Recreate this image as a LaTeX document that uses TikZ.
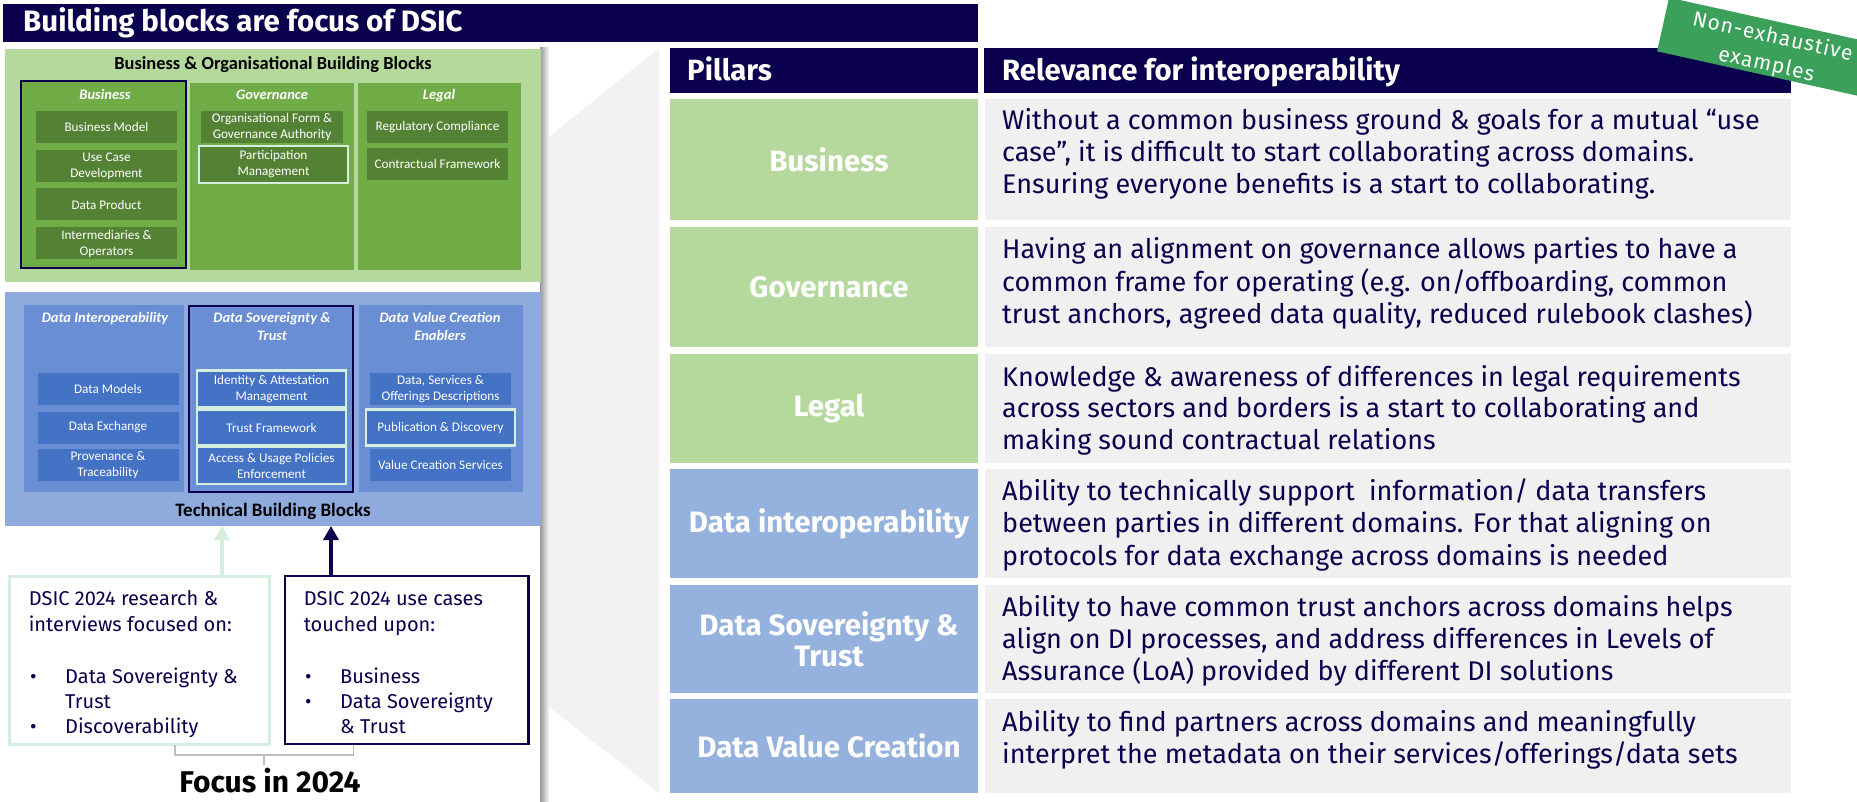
\documentclass[tikz,border=0pt]{standalone}
\usepackage{fontspec}
\setmainfont{Fira Sans}
\newfontfamily\calib{Carlito}
\usetikzlibrary{arrows.meta}

\definecolor{navy}{RGB}{10,0,78}
\definecolor{panelgreen}{RGB}{181,216,157}
\definecolor{colgreen}{RGB}{112,173,71}
\definecolor{boxgreen}{RGB}{84,130,53}
\definecolor{panelblue}{RGB}{143,170,220}
\definecolor{colblue}{RGB}{106,142,212}
\definecolor{boxblue}{RGB}{68,114,196}
\definecolor{mint}{RGB}{214,238,221}
\definecolor{cellgrey}{RGB}{240,240,240}
\definecolor{fangrey}{RGB}{242,242,242}
\definecolor{pillgreen}{RGB}{181,216,157}
\definecolor{pillblue}{RGB}{149,177,221}
\definecolor{badgegreen}{RGB}{59,160,90}
\definecolor{bracegrey}{RGB}{190,190,190}

\tikzset{
  area/.style={anchor=north west, inner sep=0pt, outer sep=0pt},
  subbox/.style={inner sep=0pt, outer sep=0pt, text=white, align=center,
    font=\calib\fontsize{13.2}{16}\selectfont},
  gsub/.style={subbox, fill=boxgreen, minimum width=141pt, minimum height=32pt},
  bsub/.style={subbox, fill=boxblue, minimum width=141pt, minimum height=32pt},
  hilite/.style={draw=mint, line width=2.2pt},
  colhead/.style={text=white, align=center, inner sep=0pt,
    font=\calib\bfseries\itshape\fontsize{14.5}{17.3}\selectfont},
  pilltext/.style={text=white, align=center, xshift=5pt,
    font=\bfseries\fontsize{29.5}{31}\selectfont},
  headtext/.style={anchor=base west, inner sep=0pt, text=white,
    font=\bfseries\fontsize{29.3}{32}\selectfont},
  reltext/.style={anchor=base west, inner sep=0pt, text=navy,
    font=\fontsize{27}{31}\selectfont},
  boxtext/.style={anchor=base west, inner sep=0pt, text=navy,
    font=\fontsize{20}{24}\selectfont},
  uparrow/.style={line width=3.2pt, -{Triangle[width=15pt,length=14pt]}},
}

\begin{document}
\begin{tikzpicture}[x=1pt,y=-1pt]
\useasboundingbox (0,0) rectangle (1857,802);
\clip (0,0) rectangle (1857,802);

% connecting fan behind the table
\fill[fangrey] (549,137) -- (659,48) -- (659,793) -- (549,707) -- cycle;
% drop shadow along the right side of the left panel
\shade[left color=black!40, right color=fangrey!60] (540,48) rectangle (549,802);
\fill[white] (0,46) rectangle (540,802);

% title bar
\node[area, fill=navy, minimum width=975pt, minimum height=38pt] (titlebar) at (3,4) {};
\node[anchor=base west, inner sep=0pt, text=white, font=\bfseries\fontsize{29.5}{32}\selectfont]
  (title) at (23,32) {Building blocks are focus of DSIC};

% ---------- business & organisational building blocks ----------
\node[area, fill=panelgreen, minimum width=535.6pt, minimum height=233pt] (bizpanel) at (5.4,49) {};
\node[anchor=base, inner sep=0pt, font=\calib\bfseries\fontsize{18.4}{20}\selectfont]
  (biztitle) at (273,70) {Business \& Organisational Building Blocks};

\node[area, fill=colgreen, draw=navy, line width=2pt, minimum width=165pt, minimum height=187pt] (colbiz) at (21,81) {};
\node[area, fill=colgreen, minimum width=164pt, minimum height=187pt] (colgov) at (190,83) {};
\node[area, fill=colgreen, minimum width=163pt, minimum height=187pt] (collegal) at (358,83) {};

\node[colhead, anchor=base] (hbiz) at (105,100) {Business};
\node[colhead, anchor=base] (hgov) at (272,100) {Governance};
\node[colhead, anchor=base] (hlegal) at (439,100) {Legal};

\node[gsub] (bm) at (106.5,127) {Business Model};
\node[gsub] (ucd) at (106.5,166) {Use Case\\Development};
\node[gsub] (dp) at (106.5,204.5) {Data Product};
\node[gsub] (io) at (106.5,243.5) {Intermediaries \&\\Operators};

\node[gsub, minimum width=142pt] (ofga) at (272,127) {Organisational Form \&\\Governance Authority};
\node[gsub, hilite, minimum width=149pt, minimum height=37pt] (pm) at (273.5,164.5) {Participation\\Management};

\node[gsub] (rc) at (437.5,127) {Regulatory Compliance};
\node[gsub] (cf) at (437.5,164) {Contractual Framework};

% ---------- technical building blocks ----------
\node[area, fill=panelblue, minimum width=535.6pt, minimum height=234pt] (techpanel) at (5.4,292) {};

\node[area, fill=colblue, minimum width=160pt, minimum height=187pt] (coldi) at (24,305) {};
\node[area, fill=colblue, draw=navy, line width=2pt, minimum width=164.4pt, minimum height=186pt] (colds) at (188.6,306) {};
\node[area, fill=colblue, minimum width=163.5pt, minimum height=187pt] (coldv) at (359,305) {};

% the base of a two-line node is the baseline of its last line
\node[colhead, anchor=base] (hdi) at (105,322.7) {Data Interoperability};
\node[colhead, anchor=base] (hds) at (272,340) {Data Sovereignty \&\\Trust};
\node[colhead, anchor=base] (hdv) at (440,340) {Data Value Creation\\Enablers};

\node[bsub] (dm) at (108,389) {Data Models};
\node[bsub] (dx) at (108,427.5) {Data Exchange};
\node[bsub] (pt) at (108,465) {Provenance \&\\Traceability};

\node[bsub, hilite, minimum width=149pt, minimum height=37pt] (iam) at (271.5,389) {Identity \& Attestation\\Management};
\node[bsub, hilite, minimum width=149pt, minimum height=36pt] (tf) at (271.5,427.5) {Trust Framework};
\node[bsub, hilite, minimum width=149pt, minimum height=37pt] (aup) at (271.5,465.5) {Access \& Usage Policies\\Enforcement};

\node[bsub] (dsod) at (440.5,389) {Data, Services \&\\Offerings Descriptions};
\node[bsub, hilite, minimum width=149pt, minimum height=36pt] (pd) at (440.5,427.5) {Publication \& Discovery};
\node[bsub] (vcs) at (440.5,464.5) {Value Creation Services};

\node[anchor=base, inner sep=0pt, font=\calib\bfseries\fontsize{19}{22}\selectfont]
  (techtitle) at (273,516.7) {Technical Building Blocks};

% ---------- 2024 focus boxes ----------
\node[area, draw=mint, line width=3pt, minimum width=260pt, minimum height=168pt] (lbox) at (9.6,576) {};
\node[area, draw=navy, line width=2.5pt, minimum width=243.6pt, minimum height=168pt] (rbox) at (285,576) {};

\node[boxtext] (l1) at (28.6,605.7) {DSIC 2024 research \&};
\node[boxtext] (l2) at (28.6,631) {interviews focused on:};
\node[boxtext] (lb1) at (30,683) {•};
\node[boxtext] (l3) at (65,683) {Data Sovereignty \&};
\node[boxtext] (l4) at (65,708) {Trust};
\node[boxtext] (lb2) at (30,733) {•};
\node[boxtext] (l5) at (65,733) {Discoverability};

\node[boxtext] (r1) at (303.6,605.7) {DSIC 2024 use cases};
\node[boxtext] (r2) at (303.6,631) {touched upon:};
\node[boxtext] (rb1) at (305,683) {•};
\node[boxtext] (r3) at (340,683) {Business};
\node[boxtext] (rb2) at (305,708) {•};
\node[boxtext] (r4) at (340,708) {Data Sovereignty};
\node[boxtext] (r5) at (340,733) {\& Trust};

\coordinate (mintx) at (222,0);
\coordinate (navyx) at (331,0);
\draw[uparrow, mint] (lbox.north -| mintx) -- (techpanel.south -| mintx);
\draw[uparrow, navy] (rbox.north -| navyx) -- (techpanel.south -| navyx);

% bracket joining both boxes
\coordinate (brl) at (175,745);
\coordinate (brr) at (353.6,745);
\coordinate (brm) at (264,755);
\draw[bracegrey, line width=1.2pt] (brl) |- (brm) -| (brr);
\draw[bracegrey, line width=1.2pt] (brm) -- ++(0,10);
\node[anchor=base, inner sep=0pt, font=\bfseries\fontsize{30}{32}\selectfont]
  (focus) at (270,792.7) {Focus in 2024};

% ---------- pillars table ----------
\node[area, fill=navy, minimum width=308pt, minimum height=45pt] (hpill) at (670,48) {};
\node[area, fill=navy, minimum width=807pt, minimum height=45pt] (hrel) at (984,48) {};
\node[headtext] (hpilltext) at (687,80.5) {Pillars};
\node[headtext] (hreltext) at (1002,80.5) {Relevance for interoperability};

\node[area, fill=pillgreen, minimum width=308pt, minimum height=121pt] (pbiz) at (670,99) {};
\node[area, fill=pillgreen, minimum width=308pt, minimum height=120pt] (pgov) at (670,227) {};
\node[area, fill=pillgreen, minimum width=308pt, minimum height=109pt] (plegal) at (670,354) {};
\node[area, fill=pillblue, minimum width=308pt, minimum height=109pt] (pdi) at (670,469) {};
\node[area, fill=pillblue, minimum width=308pt, minimum height=108pt] (pds) at (670,585) {};
\node[area, fill=pillblue, minimum width=308pt, minimum height=94pt] (pdv) at (670,699) {};

\node[pilltext] (tbiz) at (pbiz.center) {Business};
\node[pilltext] (tgov) at (pgov.center) {Governance};
\node[pilltext] (tlegal) at (plegal.center) {Legal};
\node[pilltext] (tdi) at (pdi.center) {Data interoperability};
\node[pilltext] (tds) at (pds.center) {Data Sovereignty \&\\Trust};
\node[pilltext] (tdv) at (pdv.center) {Data Value Creation};

\node[area, fill=cellgrey, minimum width=806pt, minimum height=121pt] (rbiz) at (985,99) {};
\node[area, fill=cellgrey, minimum width=806pt, minimum height=120pt] (rgov) at (985,227) {};
\node[area, fill=cellgrey, minimum width=806pt, minimum height=109pt] (rlegal) at (985,354) {};
\node[area, fill=cellgrey, minimum width=806pt, minimum height=109pt] (rdi) at (985,469) {};
\node[area, fill=cellgrey, minimum width=806pt, minimum height=108pt] (rds) at (985,585) {};
\node[area, fill=cellgrey, minimum width=806pt, minimum height=94pt] (rdv) at (985,699) {};

\node[reltext] (b1) at (1002,130) {Without a common business ground \& goals for a mutual “use};
\node[reltext] (b2) at (1002,162) {case”, it is difficult to start collaborating across domains.};
\node[reltext] (b3) at (1002,194) {Ensuring everyone benefits is a start to collaborating.};

\node[reltext] (g1) at (1002,259) {Having an alignment on governance allows parties to have a};
\node[reltext] (g2) at (1002,291) {common frame for operating (e.g. on/offboarding, common};
\node[reltext] (g3) at (1002,323) {trust anchors, agreed data quality, reduced rulebook clashes)};

\node[reltext] (lg1) at (1002,386) {Knowledge \& awareness of differences in legal requirements};
\node[reltext] (lg2) at (1002,417.5) {across sectors and borders is a start to collaborating and};
\node[reltext] (lg3) at (1002,449) {making sound contractual relations};

\node[reltext] (d1) at (1002,500.7) {Ability to technically support\ \ information/ data transfers};
\node[reltext] (d2) at (1002,532.7) {between parties in different domains. For that aligning on};
\node[reltext] (d3) at (1002,565) {protocols for data exchange across domains is needed};

\node[reltext] (s1) at (1002,616) {Ability to have common trust anchors across domains helps};
\node[reltext] (s2) at (1002,648) {align on DI processes, and address differences in Levels of};
\node[reltext] (s3) at (1002,680) {Assurance (LoA) provided by different DI solutions};

\node[reltext] (v1) at (1002,731.7) {Ability to find partners across domains and meaningfully};
\node[reltext] (v2) at (1002,763.3) {interpret the metadata on their services/offerings/data sets};

% tilted badge in the top right corner
\node[fill=badgegreen, rotate=-12.5, minimum width=260pt, minimum height=55pt, inner sep=0pt]
  (badge) at (1790,52.6) {};
\node[rotate=-12.5, inner sep=0pt, text=white, align=center,
  font=\addfontfeature{LetterSpace=5}\fontsize{21}{28.5}\selectfont] (badgetext) at (1769.5,51)
  {Non-exhaustive\\examples};
\end{tikzpicture}
\end{document}
